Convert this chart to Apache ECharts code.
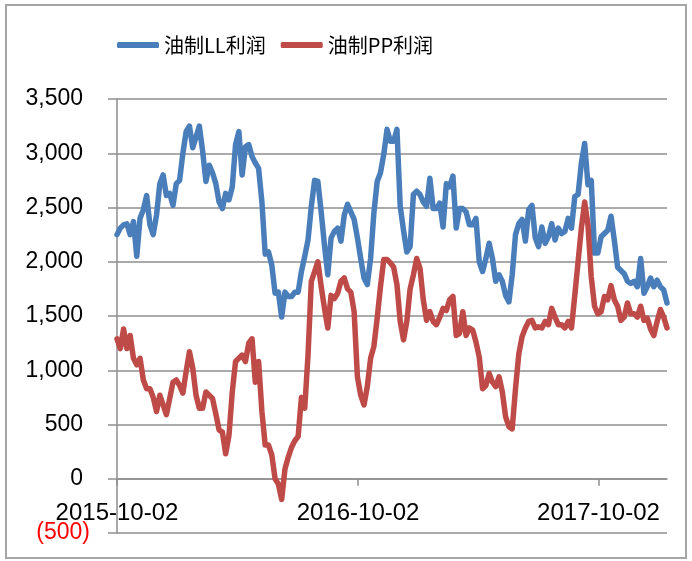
<!DOCTYPE html>
<html>
<head>
<meta charset="utf-8">
<script src="https://cdn.jsdelivr.net/npm/echarts@6/dist/echarts.min.js"></script>
<style>
  html, body { margin: 0; padding: 0; background: #fff; }
  #chart { width: 692px; height: 561px; }
</style>
</head>
<body>
<div id="chart"></div>
<script>
// sampled every 5 days from the first date
const startDate = '2015-10-02'
const stepDays = 5
const tickLabels = ['2015-10-02', '2016-10-02', '2017-10-02']
const seriesNames = ['油制LL利润', '油制PP利润']

const llProfit = [
  2250, 2310, 2340, 2350, 2250, 2370, 2050, 2400, 2480, 2610,
  2340, 2250, 2430, 2720, 2800, 2610, 2630, 2520, 2720, 2750,
  3000, 3200, 3250, 3050, 3150, 3250, 3020, 2740, 2890, 2820,
  2720, 2550, 2490, 2630, 2570, 2690, 3080, 3200, 2800, 3060,
  3080, 2970, 2910, 2860, 2550, 2070, 2090, 1970, 1710, 1720,
  1490, 1720, 1680, 1680, 1720, 1720, 1910, 2050, 2200, 2510,
  2750, 2740, 2460, 2150, 1880, 2220, 2280, 2310, 2190, 2430,
  2530, 2460, 2390, 2220, 2030, 1850, 1790, 2030, 2450, 2740,
  2820, 2990, 3220, 3110, 3110, 3220, 2510, 2290, 2090, 2140,
  2620, 2650, 2620, 2550, 2510, 2770, 2490, 2490, 2540, 2320,
  2720, 2690, 2790, 2310, 2490, 2490, 2460, 2340, 2340, 2400,
  2000, 1910, 2030, 2170, 2030, 1820, 1880, 1820, 1690, 1630,
  1880, 2250, 2350, 2390, 2190, 2480, 2520, 2220, 2140, 2320,
  2170, 2230, 2350, 2200, 2310, 2260, 2280, 2400, 2310, 2600,
  2620, 2910, 3090, 2710, 2750, 2080, 2080, 2230, 2260, 2290,
  2420, 2200, 1950, 1920, 1890, 1820, 1800, 1820, 1770, 2030,
  1710, 1770, 1850, 1770, 1830, 1770, 1740, 1620
]

const ppProfit = [
  1290, 1200, 1380, 1200, 1320, 1110, 1050, 1110, 910, 830,
  830, 750, 620, 770, 680, 590, 740, 890, 910, 860,
  790, 990, 1170, 1020, 770, 650, 650, 800, 770, 740,
  600, 450, 430, 230, 400, 800, 1080, 1110, 1140, 1080,
  1250, 1290, 890, 1080, 620, 310, 310, 220, 0, -50,
  -190, 90, 200, 290, 350, 390, 750, 650, 1140, 1820,
  1910, 2000, 1770, 1570, 1390, 1690, 1660, 1710, 1820, 1850,
  1750, 1720, 1540, 940, 770, 680, 850, 1110, 1220, 1480,
  1770, 2020, 2020, 1990, 1950, 1790, 1450, 1280, 1450, 1750,
  1880, 2030, 1940, 1650, 1460, 1540, 1450, 1420, 1490, 1570,
  1550, 1650, 1680, 1320, 1340, 1540, 1320, 1390, 1370, 1260,
  1120, 830, 860, 970, 890, 850, 940, 800, 570, 480,
  460, 830, 1150, 1310, 1390, 1450, 1460, 1390, 1400, 1390,
  1450, 1420, 1570, 1490, 1420, 1420, 1390, 1450, 1390, 1690,
  2000, 2310, 2550, 2340, 1860, 1590, 1520, 1540, 1680, 1650,
  1780, 1650, 1590, 1460, 1490, 1620, 1520, 1520, 1490, 1590,
  1460, 1480, 1380, 1320, 1450, 1560, 1490, 1390
]

const DAY = 86400000
function utc(s) {
  const p = s.split('-')
  return Date.UTC(+p[0], +p[1] - 1, +p[2])
}
function pad(n) { return n < 10 ? '0' + n : '' + n }
// x axis counts days since startDate
function dayLabel(days) {
  const d = new Date(utc(startDate) + Math.round(days) * DAY)
  return d.getUTCFullYear() + '-' + pad(d.getUTCMonth() + 1) + '-' + pad(d.getUTCDate())
}

const days = llProfit.map((v, i) => i * stepDays)
const tickDays = tickLabels.map(s => (utc(s) - utc(startDate)) / DAY)

const grey = '#8e8e8e'
const font = "'Liberation Sans', Arial, sans-serif"

let myChart = echarts.init(document.getElementById('chart'))
let option = {
  animation: false,
  textStyle: { fontFamily: font },
  graphic: [{
    type: 'rect',
    shape: { x: 6, y: 5, width: 680, height: 553 },
    style: { fill: 'none', stroke: '#a6a6a6', lineWidth: 2 },
    silent: true
  }],
  legend: {
    left: 112,
    top: 30,
    itemWidth: 42,
    itemHeight: 6,
    itemGap: 15,
    icon: 'roundRect',
    textStyle: { fontFamily: "'Noto Sans CJK SC', sans-serif", fontSize: 20, color: '#000' },
    data: seriesNames
  },
  grid: { left: 117, right: 25, top: 99, bottom: 28, containLabel: false, outerBoundsMode: 'none' },
  xAxis: {
    type: 'value',
    min: 0,
    max: days[days.length - 1],
    axisLine: { onZero: true, lineStyle: { color: grey, width: 1.5 } },
    axisTick: { show: true, length: 7, customValues: tickDays, lineStyle: { color: grey, width: 1.5 } },
    axisLabel: {
      customValues: tickDays,
      margin: -32,
      fontSize: 24,
      color: '#000',
      fontFamily: font,
      formatter: v => dayLabel(v)
    },
    splitLine: { show: false }
  },
  yAxis: {
    type: 'value',
    min: -500,
    max: 3500,
    interval: 500,
    axisLine: { show: true, lineStyle: { color: grey, width: 1.5 } },
    axisTick: { show: true, length: 9, lineStyle: { color: grey, width: 1.5 } },
    splitLine: { lineStyle: { color: grey, width: 1.5 } },
    axisLabel: {
      margin: 27,
      formatter: v => v < 0
        ? '{neg|(' + (-v).toLocaleString('en-US') + ')}'
        : '{pos|' + v.toLocaleString('en-US') + '}',
      rich: {
        pos: { fontSize: 23, color: '#000', fontFamily: font, padding: [0, 7, 0, 0] },
        neg: { fontSize: 23, color: '#ff0000', fontFamily: font }
      }
    }
  },
  series: [
    {
      name: seriesNames[0],
      type: 'line',
      showSymbol: false,
      data: days.map((d, i) => [d, llProfit[i]]),
      itemStyle: { color: '#4a7ebb' },
      lineStyle: { color: '#4a7ebb', width: 5.5, join: 'round', cap: 'round' }
    },
    {
      name: seriesNames[1],
      type: 'line',
      showSymbol: false,
      data: days.map((d, i) => [d, ppProfit[i]]),
      itemStyle: { color: '#be4b48' },
      lineStyle: { color: '#be4b48', width: 5.5, join: 'round', cap: 'round' }
    }
  ]
}
myChart.setOption(option)
</script>
</body>
</html>
